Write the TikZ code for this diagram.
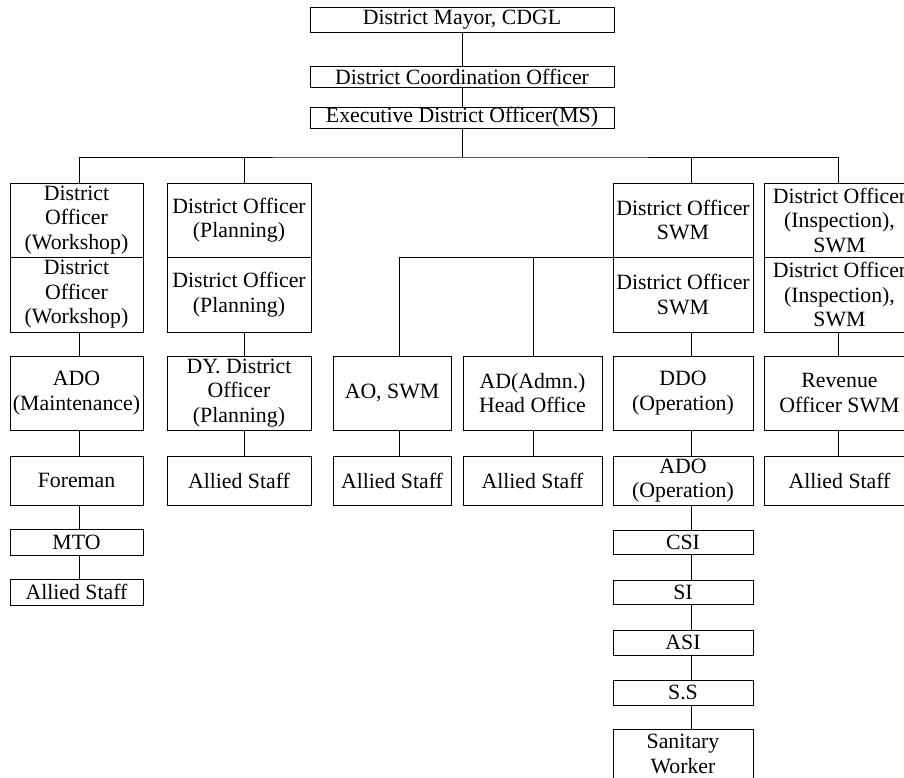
\documentclass[tikz,border=0pt]{standalone}
\usepackage{fontspec}
\setmainfont{Liberation Serif}
\begin{document}
\begin{tikzpicture}[x=1pt,y=-1pt,
  box/.style={draw, line width=0.9pt, inner sep=0pt, outer sep=0pt, anchor=north west,
    align=center, font=\fontsize{21.8}{24.5}\selectfont},
  link/.style={line width=0.9pt}]
\useasboundingbox (0,0) rectangle (904,777);
\clip (0,0) rectangle (904,777);
% top of the hierarchy
\node[box, minimum width=304pt, minimum height=25pt] (mayor) at (310,7) {District Mayor, CDGL};
\node[box, minimum width=304pt, minimum height=21pt] (dco) at (310,66) {District Coordination Officer};
\node[box, minimum width=304pt, minimum height=21pt] (edo) at (310,107) {Executive District Officer(MS)};
% district officers
\node[box, minimum width=133pt, minimum height=74pt] (ws1) at (10,183) {District\\Officer\\(Workshop)};
\node[box, minimum width=133pt, minimum height=75pt] (ws2) at (10,257) {District\\Officer\\(Workshop)};
\node[box, minimum width=144pt, minimum height=74pt] (pl1) at (167,183) {District Officer\\(Planning)};
\node[box, minimum width=144pt, minimum height=75pt] (pl2) at (167,257) {District Officer\\(Planning)};
\node[box, minimum width=140pt, minimum height=74pt] (swm1) at (613,183) {District Officer\\SWM};
\node[box, minimum width=140pt, minimum height=75pt] (swm2) at (613,257) {District Officer\\SWM};
\node[box, minimum width=151pt, minimum height=74pt] (in1) at (764,183) {District Officer\\(Inspection),\\SWM};
\node[box, minimum width=151pt, minimum height=75pt] (in2) at (764,257) {District Officer\\(Inspection),\\SWM};
% third level
\node[box, minimum width=133pt, minimum height=74pt] (adom) at (10,356) {ADO\\(Maintenance)};
\node[box, minimum width=144pt, minimum height=74pt] (dy) at (167,356) {DY. District\\Officer\\(Planning)};
\node[box, minimum width=118pt, minimum height=74pt] (ao) at (333,356) {AO, SWM};
\node[box, minimum width=139pt, minimum height=74pt] (ad) at (463,356) {AD(Admn.)\\Head Office};
\node[box, minimum width=140pt, minimum height=74pt] (ddo) at (613,356) {DDO\\(Operation)};
\node[box, minimum width=151pt, minimum height=74pt] (rev) at (764,356) {Revenue\\Officer SWM};
% fourth level
\node[box, minimum width=133pt, minimum height=49pt] (fore) at (10,456) {Foreman};
\node[box, minimum width=144pt, minimum height=49pt] (as2) at (167,456) {Allied Staff};
\node[box, minimum width=118pt, minimum height=49pt] (as3) at (333,456) {Allied Staff};
\node[box, minimum width=139pt, minimum height=49pt] (as4) at (463,456) {Allied Staff};
\node[box, minimum width=140pt, minimum height=49pt] (adoo) at (613,456) {ADO\\(Operation)};
\node[box, minimum width=151pt, minimum height=49pt] (as6) at (764,456) {Allied Staff};
% workshop chain
\node[box, minimum width=133pt, minimum height=26pt] (mto) at (10,529) {MTO};
\node[box, minimum width=133pt, minimum height=26pt] (as1) at (10,579) {Allied Staff};
% operation chain
\node[box, minimum width=140pt, minimum height=24pt] (csi) at (613,530) {CSI};
\node[box, minimum width=140pt, minimum height=24pt] (si) at (613,580) {SI};
\node[box, minimum width=140pt, minimum height=25pt] (asi) at (613,630) {ASI};
\node[box, minimum width=140pt, minimum height=25pt] (ss) at (613,680) {S.S};
\node[box, minimum width=140pt, minimum height=50pt] (san) at (613,729) {Sanitary\\Worker};
% connectors
\coordinate (bus) at (462,157);
\draw[link] (mayor.south) -- (dco.north);
\draw[link] (dco.south) -- (edo.north);
\draw[link] (edo.south) -- (bus);
\draw[link] ([xshift=2.5pt]ws1.north) |- (bus) -| ([xshift=-1.5pt]in1.north);
\draw[link] ([xshift=5pt]pl1.north) -- ([xshift=5pt]pl1.north |- bus);
\draw[link] ([xshift=8pt]swm1.north) -- ([xshift=8pt]swm1.north |- bus);
% workshop column
\draw[link] ([xshift=2.5pt]ws2.south) -- ([xshift=2.5pt]adom.north);
\draw[link] ([xshift=2.5pt]adom.south) -- ([xshift=2.5pt]fore.north);
\draw[link] ([xshift=2.5pt]fore.south) -- ([xshift=2.5pt]mto.north);
\draw[link] ([xshift=2.5pt]mto.south) -- ([xshift=2.5pt]as1.north);
% planning column
\draw[link] ([xshift=5pt]pl2.south) -- ([xshift=5pt]dy.north);
\draw[link] ([xshift=5pt]dy.south) -- ([xshift=5pt]as2.north);
% SWM branches
\draw[link] (swm2.north west) -| ([xshift=7pt]ao.north);
\draw[link] ([xshift=0.5pt]ad.north) -- ([xshift=0.5pt]ad.north |- swm2.north);
\draw[link] ([xshift=7pt]ao.south) -- ([xshift=7pt]as3.north);
\draw[link] ([xshift=0.5pt]ad.south) -- ([xshift=0.5pt]as4.north);
% operation column
\draw[link] ([xshift=8pt]swm2.south) -- ([xshift=8pt]ddo.north);
\draw[link] ([xshift=8pt]ddo.south) -- ([xshift=8pt]adoo.north);
\draw[link] ([xshift=8pt]adoo.south) -- ([xshift=8pt]csi.north);
\draw[link] ([xshift=8pt]csi.south) -- ([xshift=8pt]si.north);
\draw[link] ([xshift=8pt]si.south) -- ([xshift=8pt]asi.north);
\draw[link] ([xshift=8pt]asi.south) -- ([xshift=8pt]ss.north);
\draw[link] ([xshift=8pt]ss.south) -- ([xshift=8pt]san.north);
% inspection column
\draw[link] ([xshift=-1.5pt]in2.south) -- ([xshift=-1.5pt]rev.north);
\draw[link] ([xshift=-1.5pt]rev.south) -- ([xshift=-1.5pt]as6.north);
\end{tikzpicture}
\end{document}
